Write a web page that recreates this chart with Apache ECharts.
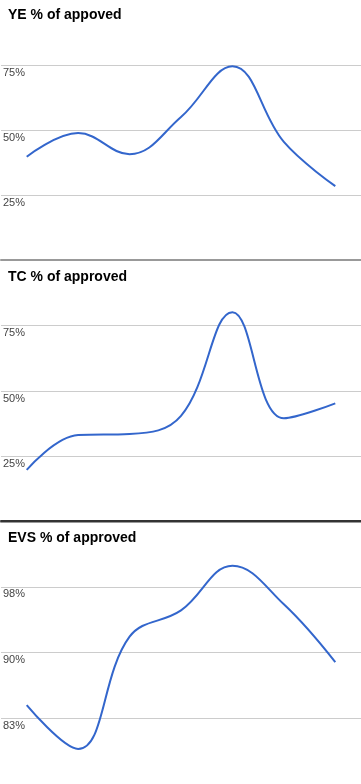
<!DOCTYPE html>
<html>
<head>
<meta charset="utf-8">
<script src="https://cdn.jsdelivr.net/npm/echarts@6/dist/echarts.min.js"></script>
<style>
html,body{margin:0;padding:0;background:#fff;}
#c{width:361px;height:784px;}
</style>
</head>
<body>
<div id="c"></div>
<script>
var categories = ['1', '2', '3', '4', '5', '6', '7'];
var titles = ['YE % of appoved', 'TC % of approved', 'EVS % of approved'];
var yeValues = [39.7, 48.8, 40.7, 55.0, 74.5, 45.4, 28.4];
var tcValues = [19.9, 33.2, 33.6, 40.5, 80.1, 39.6, 45.3];
var evsValues = [84.0, 79.0, 91.8, 94.8, 99.9, 95.5, 88.9];
var yeTicks = [25, 50, 75];
var tcTicks = [25, 50, 75];
var evsTicks = [82.5, 90, 97.5];

var chart = echarts.init(document.getElementById('c'), null, {renderer: 'canvas'});

var panels = [
  {top: -1, height: 261, min: 0, max: 100, interval: 25, ticks: yeTicks, data: yeValues},
  {top: 260, height: 262, min: 0, max: 100, interval: 25, ticks: tcTicks, data: tcValues},
  {top: 521, height: 264, min: 75, max: 105, interval: 7.5, ticks: evsTicks, data: evsValues}
];
var titleTops = [8, 270, 531];
var clear = 'rgba(0,0,0,0)';

var grids = [], xAxes = [], yAxes = [], series = [], titleArr = [];
panels.forEach(function (p, i) {
  grids.push({left: 0, right: 0, top: p.top, height: p.height, containLabel: false});
  xAxes.push({
    type: 'category', gridIndex: i, data: categories, boundaryGap: true,
    position: i === 2 ? 'top' : 'bottom',
    axisLabel: {show: false}, axisTick: {show: false},
    axisLine: {show: true, lineStyle: {color: i === 2 ? '#333' : '#999', width: 2}},
    splitLine: {show: false}
  });
  var ticks = p.ticks;
  yAxes.push({
    type: 'value', gridIndex: i, min: p.min, max: p.max, interval: p.interval,
    axisLine: {show: false}, axisTick: {show: false},
    splitLine: {show: true, lineStyle: {color: [clear, '#ccc', '#ccc', '#ccc', clear], width: 1}},
    axisLabel: {
      inside: true, margin: 2, verticalAlign: 'top', padding: [2, 0, 0, 0],
      color: '#444', fontSize: 11, fontFamily: 'Liberation Sans, Arial, sans-serif',
      formatter: function (v) {
        for (var k = 0; k < ticks.length; k++) {
          if (Math.abs(ticks[k] - v) < 1e-6) return Math.round(v) + '%';
        }
        return '';
      }
    }
  });
  series.push({
    type: 'line', xAxisIndex: i, yAxisIndex: i, data: p.data, smooth: 0.4,
    symbol: 'none', lineStyle: {color: '#3366cc', width: 2}, itemStyle: {color: '#3366cc'},
    z: 5
  });
  titleArr.push({
    text: titles[i], left: 8, top: titleTops[i], padding: 0,
    textStyle: {fontSize: 14, fontWeight: 'bold', color: '#000', fontFamily: 'Liberation Sans, Arial, sans-serif'}
  });
});

chart.setOption({
  animation: false,
  backgroundColor: '#fff',
  title: titleArr,
  grid: grids,
  xAxis: xAxes,
  yAxis: yAxes,
  series: series
});
</script>
</body>
</html>
